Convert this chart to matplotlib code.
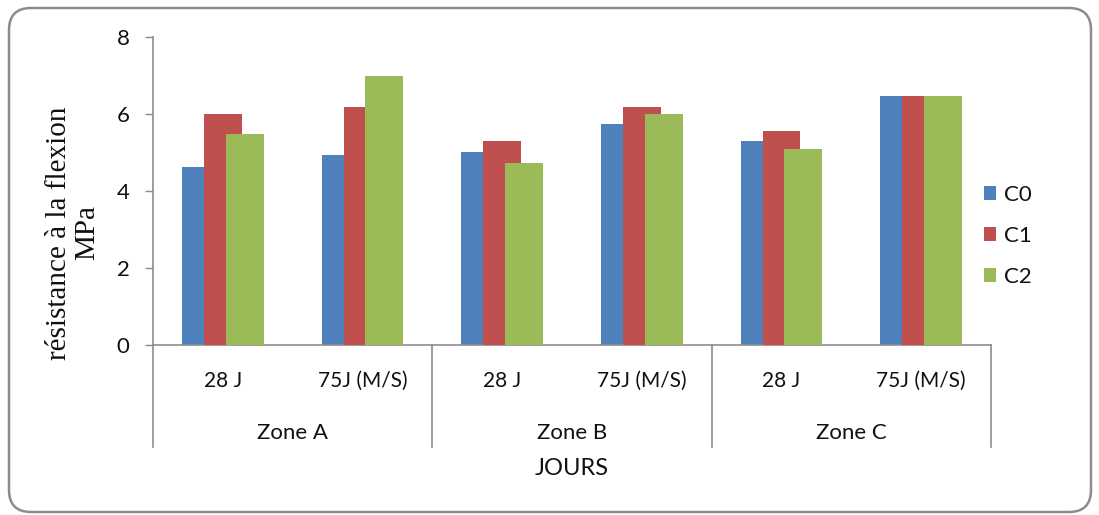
import matplotlib.pyplot as plt
import numpy as np
from matplotlib.patches import FancyBboxPatch

# data: flexural strength (MPa) per zone and curing age
zones = ['Zone A', 'Zone B', 'Zone C']
ages = ['28 J', '75J (M/S)']
series = ['C0', 'C1', 'C2']
c0 = [4.63, 4.93, 5.02, 5.75, 5.29, 6.48]
c1 = [6.00, 6.18, 5.29, 6.18, 5.55, 6.48]
c2 = [5.49, 7.00, 4.73, 6.00, 5.09, 6.48]
colors = ['#4F81BD', '#C0504D', '#9BBB59']

plt.rcParams['font.family'] = ['Lato', 'DejaVu Sans']
txt = '#111111'

fig = plt.figure(figsize=(10.99, 5.15), dpi=100)
ax = fig.add_axes([153 / 1099, 1 - 345 / 515, (991 - 153) / 1099, (345 - 37) / 515])

# outer rounded frame
frame = FancyBboxPatch((9, 3), 1082, 504, boxstyle='round,pad=0,rounding_size=22',
                       transform=None, facecolor='none', edgecolor='#8c8c8c', lw=1.8)
fig.patches.append(frame)

x = np.arange(6) + 0.5
width = 0.272
step = 0.157
bars = []
for i, (vals, col, name) in enumerate(zip([c0, c1, c2], colors, series)):
    b = ax.bar(x + (i - 1) * step, vals, width, color=col, label=name, zorder=2 + i)
    bars.append(b)

ax.set_xlim(0, 6)
ax.set_ylim(0, 8)
ax.set_yticks([0, 2, 4, 6, 8])
ax.tick_params(axis='y', length=6, width=1, color='#8c8c8c', pad=11, labelsize=16,
               labelcolor=txt)
ax.set_xticks([])
for s in ['top', 'right']:
    ax.spines[s].set_visible(False)
for s in ['left', 'bottom']:
    ax.spines[s].set_color('#8c8c8c')
    ax.spines[s].set_linewidth(1.2)

# multi-level category axis
tr = ax.get_xaxis_transform()
for k in range(6):
    ax.text(x[k], -0.117, ages[k % 2], transform=tr, ha='center', va='center',
            fontsize=15, color=txt)
for z in range(3):
    ax.text(2 * z + 1, -0.287, zones[z], transform=tr, ha='center', va='center',
            fontsize=16, color=txt)
for xb in [0, 2, 4, 6]:
    ax.plot([xb, xb], [0, -0.331], transform=tr, color='#8c8c8c', lw=1.2, clip_on=False)
ax.text(3, -0.40, 'JOURS', transform=tr, ha='center', va='center', fontsize=17,
        color=txt)

ax.set_ylabel('résistance à la flexion\nMPa', family=['Liberation Serif'], fontsize=21,
              linespacing=1.1, color=txt)
ax.yaxis.set_label_coords(-0.063, 0.364)

leg = fig.legend(handles=bars, labels=series, loc='center left',
                 bbox_to_anchor=(964 / 1099, 1 - 236 / 515), frameon=False, fontsize=16,
                 handlelength=0.55, handleheight=0.6, handletextpad=0.35, labelspacing=0.95,
                 labelcolor=txt)

fig.savefig('out.png', dpi=100)
